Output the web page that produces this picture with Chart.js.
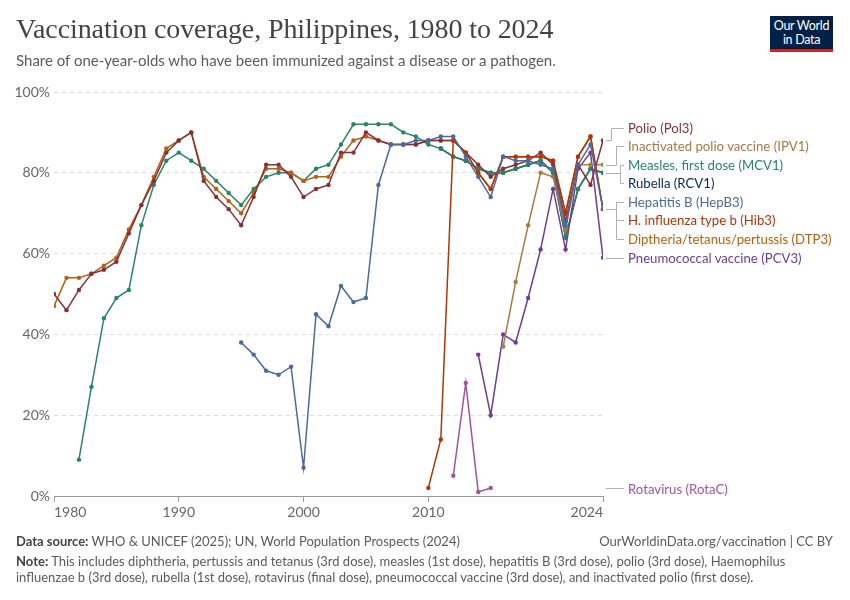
<!DOCTYPE html>
<html>
<head>
<meta charset="utf-8">
<script src="https://cdn.jsdelivr.net/npm/chart.js@4"></script>
<style>
  html, body { margin: 0; padding: 0; background: #fff; }
  #wrap { position: relative; width: 850px; height: 600px; overflow: hidden; font-family: Lato, "Noto Sans", sans-serif; }
  canvas { position: absolute; left: 0; top: 0; }
  #title { position: absolute; left: 16px; top: 13px; font-family: "Liberation Serif", serif; font-size: 28px; color: #444; white-space: nowrap; letter-spacing: -0.1px; }
  #subtitle { position: absolute; left: 16px; top: 51px; font-size: 15px; color: #5b5b5b; white-space: nowrap; }
  #logo { position: absolute; left: 770px; top: 16px; width: 63px; background: #002147; border-bottom: 3px solid #ce261e; color: #fff; font-size: 12.5px; line-height: 14px; text-align: center; padding-top: 3px; box-sizing: content-box; height: 30px; letter-spacing: -0.3px; }
  .leg { position: absolute; left: 628px; font-size: 13.2px; white-space: nowrap; transform: translateY(-50%); }
  #source { position: absolute; left: 16px; top: 533px; font-size: 13px; color: #5b5b5b; white-space: nowrap; }
  #url { position: absolute; right: 17px; top: 533px; font-size: 13px; color: #5b5b5b; white-space: nowrap; }
  #note { position: absolute; left: 16px; top: 554px; font-size: 13px; color: #5b5b5b; line-height: 15.5px; width: 800px; }
  b { color: #444; font-weight: 700; }
</style>
</head>
<body>
<div id="wrap">
  <canvas id="c" width="850" height="600"></canvas>
  <div id="title">Vaccination coverage, Philippines, 1980 to 2024</div>
  <div id="subtitle">Share of one-year-olds who have been immunized against a disease or a pathogen.</div>
  <div id="logo">Our World<br>in Data</div>
  <div id="legend"></div>
  <div id="source"><b>Data source:</b> WHO &amp; UNICEF (2025); UN, World Population Prospects (2024)</div>
  <div id="url">OurWorldinData.org/vaccination | CC BY</div>
  <div id="note"><b>Note:</b> This includes diphtheria, pertussis and tetanus (3rd dose), measles (1st dose), hepatitis B (3rd dose), polio (3rd dose), Haemophilus influenzae b (3rd dose), rubella (1st dose), rotavirus (final dose), pneumococcal vaccine (3rd dose), and inactivated polio (first dose).</div>
</div>
<script>
// ---------- DATA ----------
const years = [];
for (let y = 1980; y <= 2024; y++) years.push(y);
const xTicks = [1980, 1990, 2000, 2010, 2024];
const yTicks = [0, 20, 40, 60, 80, 100];
const _ = null;

// 1980 ... 2024
const polio = [50,46,51,55,56,58,65,72,78,85, 88,90,78,74,71,67,74,82,82,79, 74,76,77,85,85,90,88,87,87,87, 88,88,88,85,82,79,81,82,83,85, 82,68,82,77,88];
const dtp3  = [47,54,54,55,57,59,66,72,79,86, 88,90,79,76,73,70,75,81,81,80, 78,79,79,84,88,89,88,87,87,87, 88,88,88,85,80,76,84,84,84,84, 83,70,84,89,71];
const mcv1  = [_,_,9,27,44,49,51,67,77,83, 85,83,81,78,75,72,76,79,80,80, 78,81,82,87,92,92,92,92,90,89, 87,86,84,83,81,80,80,81,82,83, 80,64,76,81,80];
const rcv1  = [_,_,_,_,_,_,_,_,_,_, _,_,_,_,_,_,_,_,_,_, _,_,_,_,_,_,_,_,_,_, _,86,84,83,81,80,80,81,82,83, 80,64,76,81,80];
const hepb3 = [_,_,_,_,_,_,_,_,_,_, _,_,_,_,_,38,35,31,30,32, 7,45,42,52,48,49,77,87,87,88, 88,89,89,84,79,74,84,83,83,82, 81,67,82,87,71];
const hib3  = [_,_,_,_,_,_,_,_,_,_, _,_,_,_,_,_,_,_,_,_, _,_,_,_,_,_,_,_,_,_, 2,14,88,85,80,76,84,84,84,84, 83,70,84,89,71];
const ipv1  = [_,_,_,_,_,_,_,_,_,_, _,_,_,_,_,_,_,_,_,_, _,_,_,_,_,_,_,_,_,_, _,_,_,_,_,_,37,53,67,80, 79,66,82,82,82];
const pcv3  = [_,_,_,_,_,_,_,_,_,_, _,_,_,_,_,_,_,_,_,_, _,_,_,_,_,_,_,_,_,_, _,_,_,_,35,20,40,38,49,61, 76,61,81,85,59];
const rotac = [_,_,_,_,_,_,_,_,_,_, _,_,_,_,_,_,_,_,_,_, _,_,_,_,_,_,_,_,_,_, _,_,5,28,1,2,_,_,_,_, _,_,_,_,_];

const seriesNames = ["Polio (Pol3)","Inactivated polio vaccine (IPV1)","Measles, first dose (MCV1)","Rubella (RCV1)","Hepatitis B (HepB3)","H. influenza type b (Hib3)","Diptheria/tetanus/pertussis (DTP3)","Pneumococcal vaccine (PCV3)","Rotavirus (RotaC)"];

// ---------- STYLE ----------
const colors = {
  polio: "#883039", ipv1: "#a87a44", mcv1: "#2c8465", rcv1: "#00295b",
  hepb3: "#4c6a9c", hib3: "#b13507", dtp3: "#b16214", pcv3: "#6d3e91", rotac: "#a2559c"
};
// drawing order: first = on top
const order = [
  ["hepb3", hepb3], ["hib3", hib3], ["polio", polio], ["dtp3", dtp3], ["ipv1", ipv1],
  ["pcv3", pcv3], ["mcv1", mcv1], ["rcv1", rcv1], ["rotac", rotac]
];
const datasets = order.map(([k, arr]) => ({
  label: k,
  data: years.map((yr, i) => ({ x: yr, y: arr[i] })),
  borderColor: colors[k],
  backgroundColor: colors[k],
  borderWidth: 1.5,
  pointRadius: 2.2,
  pointBorderWidth: 0,
  pointHoverRadius: 0,
  spanGaps: false,
  tension: 0
}));

// legend layout (label y positions in px) and groups
const legendItems = [
  { key: "polio", text: seriesNames[0], y: 128 },
  { key: "ipv1",  text: seriesNames[1], y: 146 },
  { key: "mcv1",  text: seriesNames[2], y: 164.5 },
  { key: "rcv1",  text: seriesNames[3], y: 183 },
  { key: "hepb3", text: seriesNames[4], y: 201.5 },
  { key: "hib3",  text: seriesNames[5], y: 220 },
  { key: "dtp3",  text: seriesNames[6], y: 238.5 },
  { key: "pcv3",  text: seriesNames[7], y: 258 },
  { key: "rotac", text: seriesNames[8], y: 489 }
];
const groups = [
  { src: polio, keys: ["polio"], bx: 611 },
  { src: ipv1, keys: ["ipv1"], bx: 616 },
  { src: mcv1, keys: ["mcv1", "rcv1"], bx: 620 },
  { src: hepb3, keys: ["hepb3", "hib3", "dtp3"], bx: 616 },
  { src: pcv3, keys: ["pcv3"], bx: 616 },
  { src: rotac, keys: ["rotac"], bx: 616 }
];

const legDiv = document.getElementById("legend");
legendItems.forEach(it => {
  const d = document.createElement("div");
  d.className = "leg";
  d.style.top = it.y + "px";
  d.style.color = colors[it.key];
  d.textContent = it.text;
  legDiv.appendChild(d);
});

const connectorPlugin = {
  id: "connectors",
  afterDraw(chart) {
    const { ctx, scales } = chart;
    const xs = scales.x, ys = scales.y;
    ctx.save();
    ctx.strokeStyle = "#b0b0b0";
    ctx.lineWidth = 1;
    groups.forEach(g => {
      let last = -1;
      for (let i = g.src.length - 1; i >= 0; i--) { if (g.src[i] !== null) { last = i; break; } }
      const py = Math.round(ys.getPixelForValue(g.src[last])) + 0.5;
      const startX = Math.max(xs.getPixelForValue(years[last]) + 3, xs.right + 3);
      const labelYs = g.keys.map(k => Math.round(legendItems.find(l => l.key === k).y) + 0.5);
      const endX = 624;
      ctx.beginPath();
      if (g.keys.length === 1 && Math.abs(labelYs[0] - py) < 2) {
        ctx.moveTo(startX, py); ctx.lineTo(endX, py);
      } else {
        const bx = g.bx + 0.5;
        ctx.moveTo(startX, py); ctx.lineTo(bx, py);
        const ymin = Math.min(py, ...labelYs), ymax = Math.max(py, ...labelYs);
        ctx.moveTo(bx, ymin); ctx.lineTo(bx, ymax);
        labelYs.forEach(ly => { ctx.moveTo(bx, ly); ctx.lineTo(endX, ly); });
      }
      ctx.stroke();
    });
    ctx.restore();
  }
};

new Chart(document.getElementById("c"), {
  type: "line",
  data: { datasets },
  plugins: [connectorPlugin],
  options: {
    responsive: false,
    animation: false,
    events: [],
    layout: { padding: { left: 0, right: 247, top: 92, bottom: 74 } },
    plugins: { legend: { display: false }, tooltip: { enabled: false } },
    scales: {
      x: {
        type: "linear", min: 1980, max: 2024,
        afterBuildTicks: s => { s.ticks = xTicks.map(v => ({ value: v })); },
        afterFit: s => { s.height = 30; },
        ticks: { color: "#666", font: { family: "Lato", size: 14 }, maxRotation: 0, autoSkip: false, padding: 2, align: "inner", callback: v => String(v) },
        grid: { drawOnChartArea: false, drawTicks: true, tickLength: 6, color: "#999" },
        border: { color: "#999", width: 1 }
      },
      y: {
        min: 0, max: 100,
        afterBuildTicks: s => { s.ticks = yTicks.map(v => ({ value: v })); },
        afterFit: s => { s.width = 54; },
        ticks: { color: "#666", font: { family: "Lato", size: 14 }, padding: 4, callback: v => v + "%" },
        grid: { color: "#dddddd", drawTicks: false, lineWidth: 1 },
        border: { display: false, dash: [4, 4] }
      }
    }
  }
});
</script>
</body>
</html>
